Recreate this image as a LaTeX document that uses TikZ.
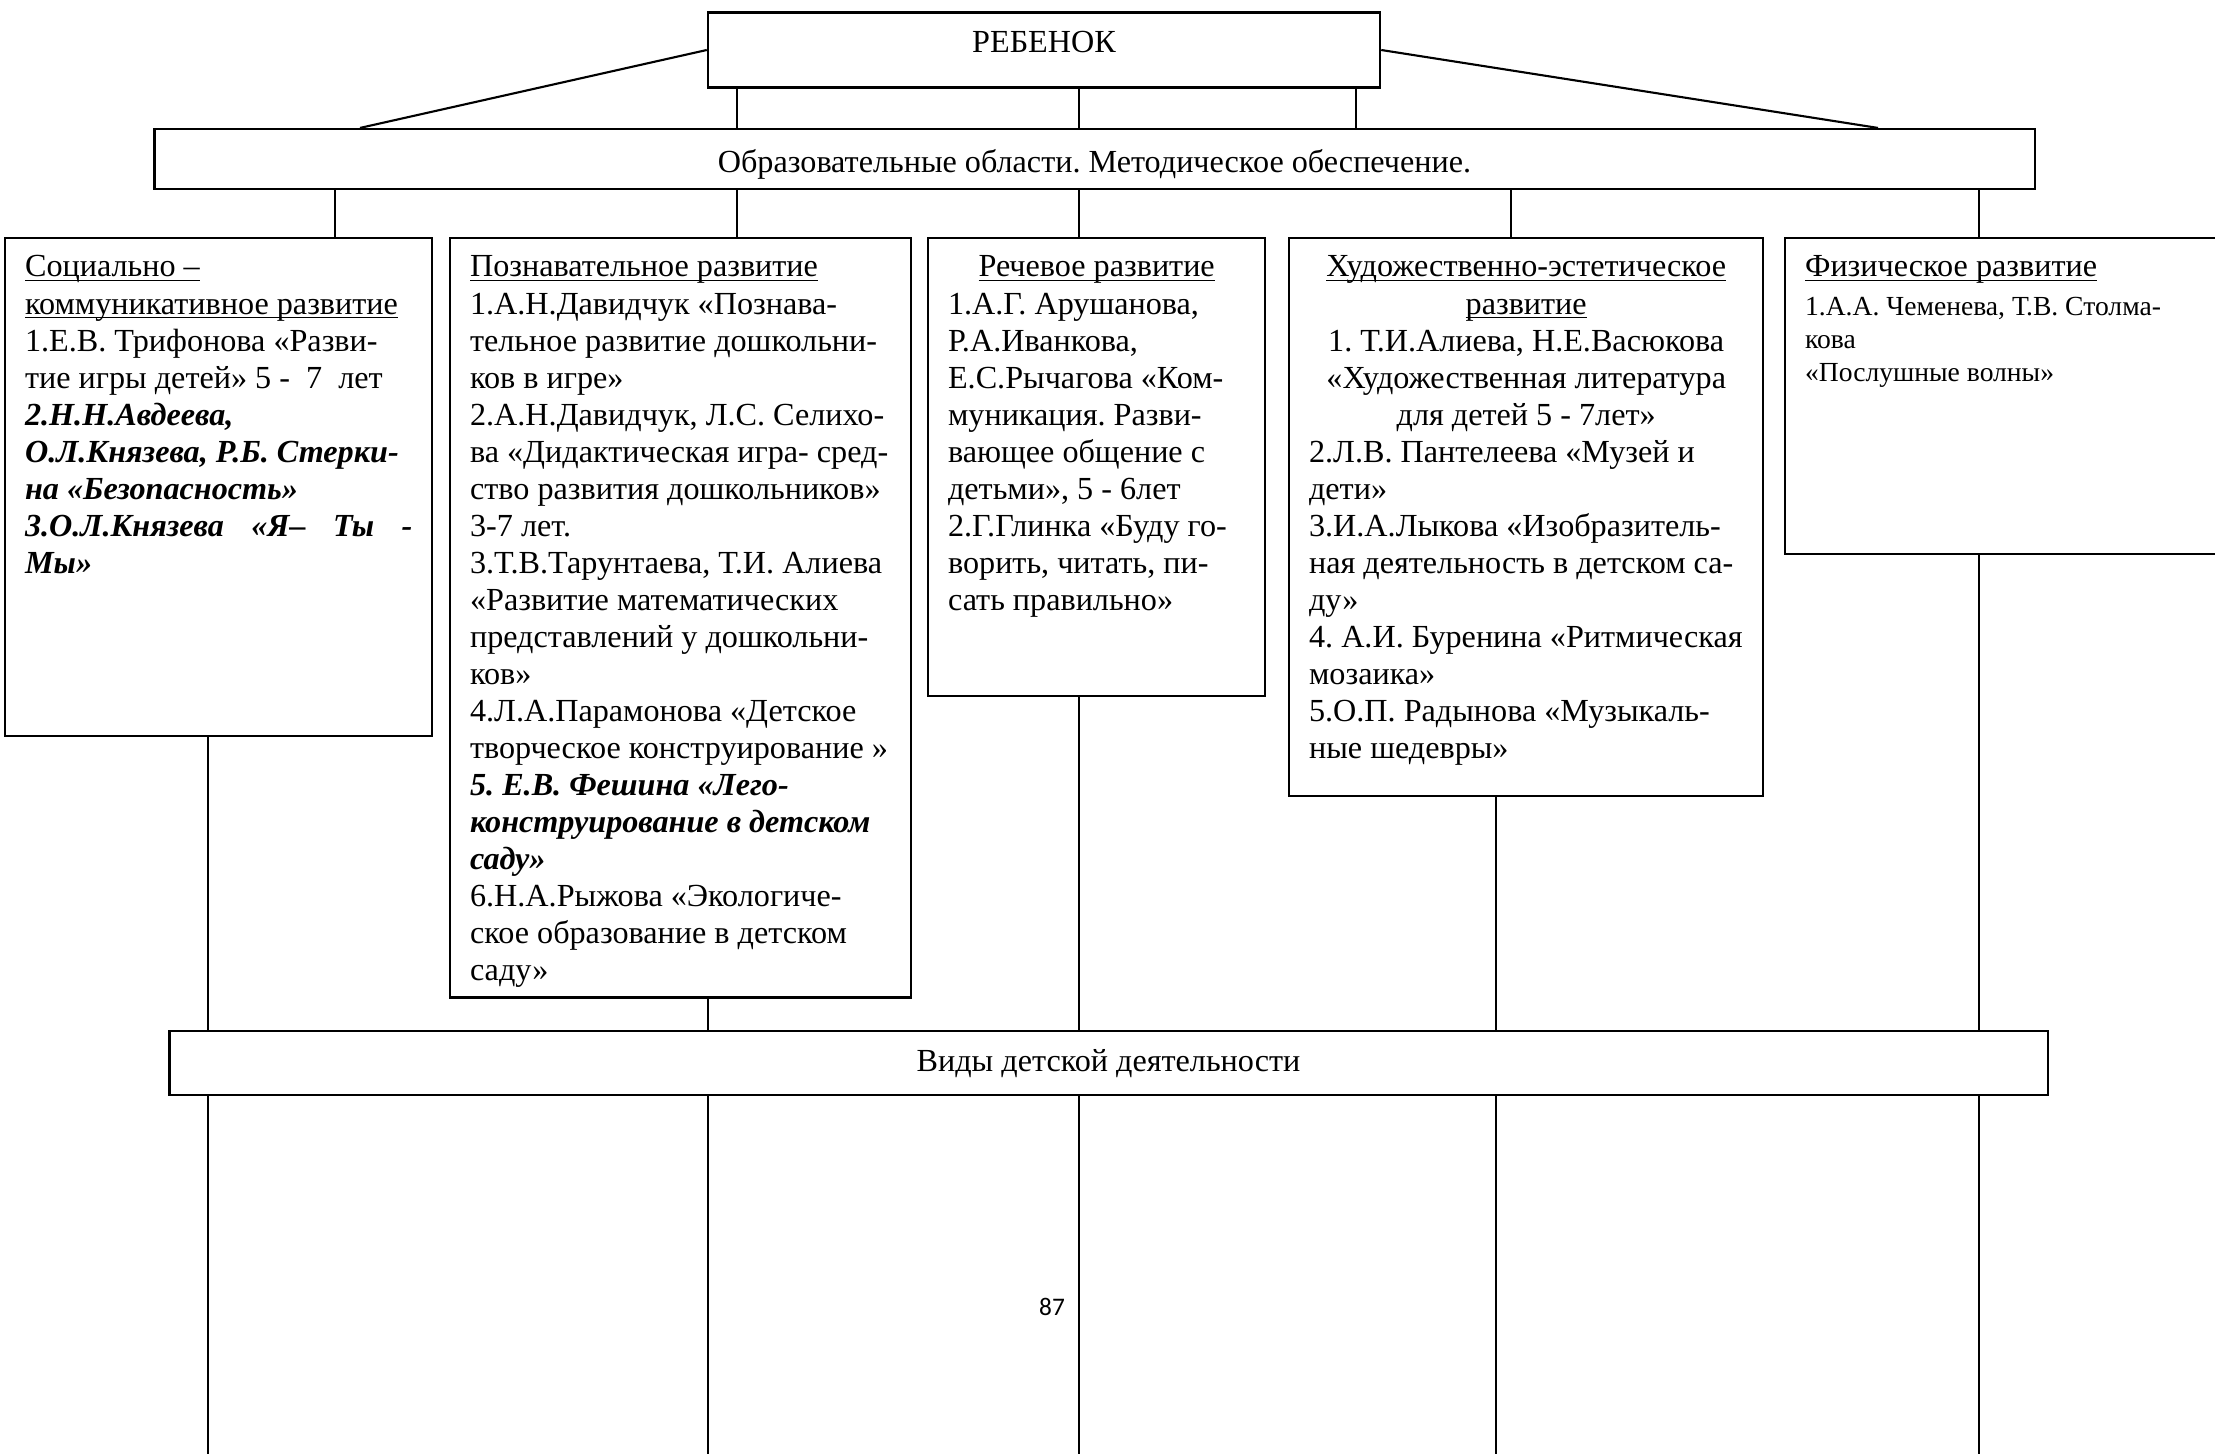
\documentclass[tikz,border=0pt]{standalone}
\usepackage{fontspec}
\setmainfont{Liberation Serif}
\newfontfamily\pagenumfont{Carlito}
\frenchspacing
\newcommand{\bodysize}{\fontsize{9.15}{10.53}\selectfont}
\newcommand{\smallbody}{\fontsize{7.85}{9.4}\selectfont}
\newcommand{\bi}[1]{\textbf{\textit{#1}}}
\newcommand{\headline}[1]{\setbox0=\hbox{#1}\rlap{\rule[-1.2pt]{\wd0}{0.45pt}}\box0}

\begin{document}
\begin{tikzpicture}[x=0.01cm, y=-0.01cm, font=\bodysize,
        title/.style={draw, line width=0.6pt, inner sep=0pt},
        area/.style={draw, line width=0.6pt, anchor=north west, inner xsep=0.2cm, inner ysep=0.13cm},
        link/.style={line width=0.4pt}]
        \useasboundingbox (0,0) rectangle (2215,1454);
        \clip (0,0) rectangle (2215,1454);

        % Child and the two bars
        \node[title, minimum width=6.72cm, minimum height=0.75cm, text height=0.21cm, text depth=0.17cm] (child) at (1044,50) {РЕБЕНОК};
        \node[title, minimum width=18.79cm, minimum height=0.60cm, text height=0.33cm, text depth=0.07cm] (edu) at (1094.5,159) {Образовательные области. Методическое обеспечение.};
        \node[title, minimum width=18.77cm, minimum height=0.64cm, text height=0.23cm, text depth=0.07cm] (kinds) at (1108.5,1063) {Виды детской деятельности};

        % Educational areas
        \node[area] (soc) at (4,237) {\parbox[t][4.72cm][t]{3.87cm}{\strut
            \headline{Социально –}\\
            \headline{коммуникативное развитие}\\
            1.Е.В. Трифонова «Разви-\\
            тие игры детей» 5 -\ \ 7\ \ лет\\
            \bi{2.Н.Н.Авдеева,}\\
            \bi{О.Л.Князева, Р.Б. Стерки-}\\
            \bi{на «Безопасность»}\\
            \bi{3.О.Л.Князева\hfill«Я–\hfill Ты\hfill -}\\
            \bi{Мы»}}};
        \node[area] (cog) at (449,237) {\parbox[t][7.33cm][t]{4.21cm}{\strut
            \headline{Познавательное развитие}\\
            1.А.Н.Давидчук «Познава-\\
            тельное развитие дошкольни-\\
            ков в игре»\\
            2.А.Н.Давидчук, Л.С. Селихо-\\
            ва «Дидактическая игра- сред-\\
            ство развития дошкольников»\\
            3-7 лет.\\
            3.Т.В.Тарунтаева, Т.И. Алиева\\
            «Развитие математических\\
            представлений у дошкольни-\\
            ков»\\
            4.Л.А.Парамонова «Детское\\
            творческое конструирование »\\
            \bi{5. Е.В. Фешина «Лего-}\\
            \bi{конструирование в детском}\\
            \bi{саду»}\\
            6.Н.А.Рыжова «Экологиче-\\
            ское образование в детском\\
            саду»}};
        \node[area] (speech) at (927,237) {\parbox[t][4.32cm][t]{2.97cm}{\strut
            \makebox[\linewidth]{\headline{Речевое развитие}}\\
            1.А.Г. Арушанова,\\
            Р.А.Иванкова,\\
            Е.С.Рычагова «Ком-\\
            муникация. Разви-\\
            вающее общение с\\
            детьми», 5 - 6лет\\
            2.Г.Глинка «Буду го-\\
            ворить, читать, пи-\\
            сать правильно»}};
        \node[area] (art) at (1288,237) {\parbox[t][5.32cm][t]{4.34cm}{\strut
            \makebox[\linewidth]{\headline{Художественно-эстетическое}}\\
            \makebox[\linewidth]{\headline{развитие}}\\
            \makebox[\linewidth]{1. Т.И.Алиева, Н.Е.Васюкова}\\
            \makebox[\linewidth]{«Художественная литература}\\
            \makebox[\linewidth]{для детей 5 - 7лет»}\\
            2.Л.В. Пантелеева «Музей и\\
            дети»\\
            3.И.А.Лыкова «Изобразитель-\\
            ная деятельность в детском са-\\
            ду»\\
            4. А.И. Буренина «Ритмическая\\
            мозаика»\\
            5.О.П. Радынова «Музыкаль-\\
            ные шедевры»}};
        \node[area] (phys) at (1784,237) {\parbox[t][2.90cm][t]{4.16cm}{\strut
            \headline{Физическое развитие}\par\vspace{0.05cm}
            \smallbody 1.А.А. Чеменева, Т.В. Столма-\\
            кова\\
            «Послушные волны»}};

        % Page number
        \node[font=\pagenumfont\fontsize{7.19}{8.6}\selectfont] (pagenum) at (1052,1307) {87};

        % Child to the areas bar
        \draw[line width=0.6pt] (child.west) -- (edu.north -| 360,0);
        \draw[line width=0.6pt] (child.east) -- (edu.north -| 1878,0);
        \draw[link] (child.south -| 737,0) -- (edu.north -| 737,0);
        \draw[link] (child.south -| 1079,0) -- (edu.north -| 1079,0);
        \draw[link] (child.south -| 1356,0) -- (edu.north -| 1356,0);

        % Bar to each area
        \draw[link] (edu.south -| 335,0) -- (soc.north -| 335,0);
        \draw[link] (edu.south -| 737,0) -- (cog.north -| 737,0);
        \draw[link] (edu.south -| 1079,0) -- (speech.north -| 1079,0);
        \draw[link] (edu.south -| 1511,0) -- (art.north -| 1511,0);
        \draw[link] (edu.south -| 1979,0) -- (phys.north -| 1979,0);

        % Areas to the activities bar
        \draw[link] (soc.south -| 208,0) -- (kinds.north -| 208,0);
        \draw[link] (cog.south -| 708,0) -- (kinds.north -| 708,0);
        \draw[link] (speech.south -| 1079,0) -- (kinds.north -| 1079,0);
        \draw[link] (art.south -| 1496,0) -- (kinds.north -| 1496,0);
        \draw[link] (phys.south -| 1979,0) -- (kinds.north -| 1979,0);

        % Lines running off the page
        \coordinate (end1) at (208,1454);
        \coordinate (end2) at (708,1454);
        \coordinate (end3) at (1079,1454);
        \coordinate (end4) at (1496,1454);
        \coordinate (end5) at (1979,1454);
        \draw[link] (kinds.south -| end1) -- (end1);
        \draw[link] (kinds.south -| end2) -- (end2);
        \draw[link] (kinds.south -| end3) -- (end3);
        \draw[link] (kinds.south -| end4) -- (end4);
        \draw[link] (kinds.south -| end5) -- (end5);
    \end{tikzpicture}
\end{document}
